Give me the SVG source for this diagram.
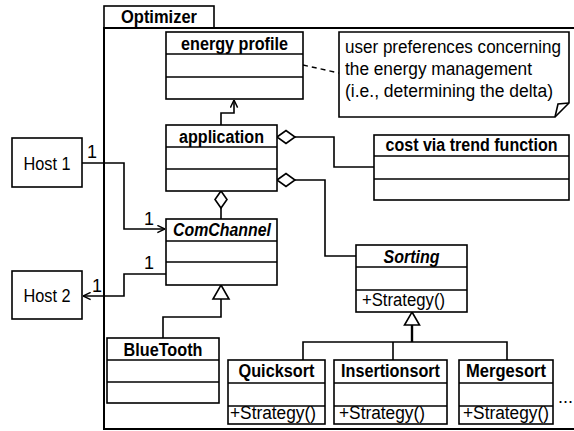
<svg xmlns="http://www.w3.org/2000/svg" width="574" height="431" viewBox="0 0 574 431">
<style>
.box{fill:#fff;stroke:#000;stroke-width:1.6}
.ln{fill:none;stroke:#000;stroke-width:1.6}
.frame{fill:none;stroke:#000;stroke-width:2}
.t{font-family:"Liberation Sans",Arial,sans-serif;font-size:18px;fill:#000}
.b{font-weight:bold}
.i{font-style:italic}
.c{text-anchor:middle}
.dia{fill:#fff;stroke:#000;stroke-width:1.6}
</style>
<defs>
<marker id="open" viewBox="0 0 10 10" refX="9.5" refY="5" markerWidth="9" markerHeight="9" orient="auto" markerUnits="userSpaceOnUse">
<path d="M1,1 L9.5,5 L1,9" fill="none" stroke="#000" stroke-width="1.6"/>
</marker>
</defs>
<rect width="574" height="431" fill="#fff"/>

<g id="optimizer">
<rect class="box" x="104" y="6" width="110" height="22"/>
<rect class="frame" x="104" y="28" width="480" height="401"/>
<text class="t b c" x="159" y="23" textLength="76" lengthAdjust="spacingAndGlyphs">Optimizer</text>
</g>

<g id="connectors">
<polyline class="ln" points="221,125 221,113 234,113 234,100" marker-end="url(#open)"/>
<line x1="303" y1="65" x2="339" y2="73" stroke="#000" stroke-width="1.4" stroke-dasharray="5,4"/>
<polyline class="ln" points="295,137 334,137 334,167 374,167"/>
<polyline class="ln" points="295,180 325,180 325,256 356,256"/>
<line class="ln" x1="221" y1="208" x2="221" y2="219"/>
<polyline class="ln" points="82,163 124,163 124,229 165,229" marker-end="url(#open)"/>
<polyline class="ln" points="166,274 124,274 124,296 83,296" marker-end="url(#open)"/>
<polyline class="ln" points="163,338 163,317 221,317 221,299"/>
<polyline class="ln" points="303,360 303,342 507,342 507,360"/>
<line class="ln" x1="393" y1="342" x2="393" y2="360"/>
<line x1="412" y1="325" x2="412" y2="342" stroke="#000" stroke-width="2.4"/>
<path class="dia" d="M277,137 L286,130.5 L295,137 L286,143.5 Z"/>
<path class="dia" d="M277,180 L286,173.5 L295,180 L286,186.5 Z"/>
<path class="dia" d="M221,191 L227,199.5 L221,208 L215,199.5 Z"/>
<path class="dia" d="M221,285 L229,299 L213,299 Z"/>
<path class="dia" d="M412,312 L419.5,325 L404.5,325 Z"/>
<text class="t" x="87" y="158">1</text>
<text class="t" x="144" y="225">1</text>
<text class="t" x="144" y="269">1</text>
<text class="t" x="92" y="292">1</text>
</g>

<g id="host1">
<rect class="box" x="12" y="138" width="70" height="49"/>
<text class="t c" x="47" y="170" textLength="47" lengthAdjust="spacingAndGlyphs">Host 1</text>
</g>
<g id="host2">
<rect class="box" x="12" y="271" width="70" height="48"/>
<text class="t c" x="47" y="302" textLength="47" lengthAdjust="spacingAndGlyphs">Host 2</text>
</g>

<g id="energy-profile">
<rect class="box" x="166" y="32" width="137" height="67"/>
<line class="ln" x1="166" y1="54" x2="303" y2="54"/>
<line class="ln" x1="166" y1="77" x2="303" y2="77"/>
<text class="t b c" x="234.5" y="50" textLength="107" lengthAdjust="spacingAndGlyphs">energy profile</text>
</g>

<g id="note">
<path class="box" d="M339,32 H569 V103 L555,117 H339 Z"/>
<polyline class="ln" points="555,117 558,104 569,103"/>
<text class="t" x="345" y="53" textLength="216" lengthAdjust="spacingAndGlyphs">user preferences concerning</text>
<text class="t" x="345" y="75" textLength="187" lengthAdjust="spacingAndGlyphs">the energy management</text>
<text class="t" x="345" y="97" textLength="208" lengthAdjust="spacingAndGlyphs">(i.e., determining the delta)</text>
</g>

<g id="application">
<rect class="box" x="166" y="125" width="111" height="66"/>
<line class="ln" x1="166" y1="147" x2="277" y2="147"/>
<line class="ln" x1="166" y1="169" x2="277" y2="169"/>
<text class="t b c" x="221.5" y="143" textLength="85" lengthAdjust="spacingAndGlyphs">application</text>
</g>

<g id="cost">
<rect class="box" x="374" y="135" width="195" height="65"/>
<line class="ln" x1="374" y1="156" x2="569" y2="156"/>
<line class="ln" x1="374" y1="179" x2="569" y2="179"/>
<text class="t b c" x="471.5" y="151" font-size="17" textLength="172" lengthAdjust="spacingAndGlyphs">cost via trend function</text>
</g>

<g id="comchannel">
<rect class="box" x="166" y="219" width="111" height="66"/>
<line class="ln" x1="166" y1="241" x2="277" y2="241"/>
<line class="ln" x1="166" y1="262" x2="277" y2="262"/>
<text class="t b i c" x="222" y="236" textLength="98" lengthAdjust="spacingAndGlyphs">ComChannel</text>
</g>

<g id="sorting">
<rect class="box" x="356" y="245" width="111" height="67"/>
<line class="ln" x1="356" y1="267" x2="467" y2="267"/>
<line class="ln" x1="356" y1="290" x2="467" y2="290"/>
<text class="t b i c" x="411.5" y="263" textLength="56" lengthAdjust="spacingAndGlyphs">Sorting</text>
<text class="t" x="362" y="306" textLength="83" lengthAdjust="spacingAndGlyphs">+Strategy()</text>
</g>

<g id="bluetooth">
<rect class="box" x="107" y="338" width="112" height="65"/>
<line class="ln" x1="107" y1="360" x2="219" y2="360"/>
<line class="ln" x1="107" y1="382" x2="219" y2="382"/>
<text class="t b c" x="163" y="356" textLength="79" lengthAdjust="spacingAndGlyphs">BlueTooth</text>
</g>

<g id="quicksort">
<rect class="box" x="228" y="360" width="97" height="64"/>
<line class="ln" x1="228" y1="383" x2="325" y2="383"/>
<line class="ln" x1="228" y1="406" x2="325" y2="406"/>
<text class="t b c" x="276.5" y="377" textLength="76" lengthAdjust="spacingAndGlyphs">Quicksort</text>
<text class="t" x="230" y="419" textLength="86" lengthAdjust="spacingAndGlyphs">+Strategy()</text>
</g>

<g id="insertionsort">
<rect class="box" x="334" y="360" width="113" height="64"/>
<line class="ln" x1="334" y1="383" x2="447" y2="383"/>
<line class="ln" x1="334" y1="406" x2="447" y2="406"/>
<text class="t b c" x="390.5" y="377" textLength="99" lengthAdjust="spacingAndGlyphs">Insertionsort</text>
<text class="t" x="339" y="419" textLength="86" lengthAdjust="spacingAndGlyphs">+Strategy()</text>
</g>

<g id="mergesort">
<rect class="box" x="459" y="360" width="94" height="64"/>
<line class="ln" x1="459" y1="383" x2="553" y2="383"/>
<line class="ln" x1="459" y1="406" x2="553" y2="406"/>
<text class="t b c" x="506" y="377" textLength="80" lengthAdjust="spacingAndGlyphs">Mergesort</text>
<text class="t" x="463" y="419" textLength="86" lengthAdjust="spacingAndGlyphs">+Strategy()</text>
</g>

<g id="more">
<text class="t" x="558" y="403">...</text>
</g>
</svg>
